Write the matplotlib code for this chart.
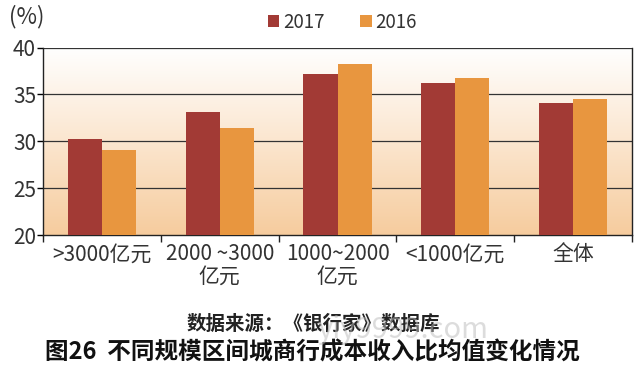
import matplotlib
matplotlib.use("Agg")
import matplotlib.pyplot as plt
import numpy as np
from matplotlib.colors import LinearSegmentedColormap

plt.rcParams['font.family'] = ['Noto Sans CJK SC', 'DejaVu Sans']

categories = [">3000亿元", "2000 ~3000\n亿元", "1000~2000\n亿元", "<1000亿元", "全体"]
values_2017 = [30.2, 33.1, 37.2, 36.2, 34.1]
values_2016 = [29.1, 31.4, 38.3, 36.8, 34.5]
series_names = ["2017", "2016"]

color_2017 = "#a23a35"
color_2016 = "#e8963f"

fig = plt.figure(figsize=(6.4, 3.72), dpi=100)
ax = fig.add_axes([0.0672, 0.368, 0.9203, 0.504])

# background gradient: white at top, peach at bottom
cmap = LinearSegmentedColormap.from_list("bg", ["#f6cc9e", "#fbe6cf", "#ffffff"])
grad = np.linspace(0, 1, 256).reshape(-1, 1)
ax.imshow(grad, extent=[0, 1, 0, 1], transform=ax.transAxes, aspect="auto",
          cmap=cmap, origin="lower", zorder=0)

x = np.arange(len(categories))
w = 0.29
ax.bar(x - w / 2, values_2017, width=w, color=color_2017, label=series_names[0], zorder=3)
ax.bar(x + w / 2, values_2016, width=w, color=color_2016, label=series_names[1], zorder=3)

ax.set_xlim(-0.5, len(categories) - 0.5)
ax.set_ylim(20, 40)
ax.set_yticks([20, 25, 30, 35, 40])
for yv in [25, 30, 35, 40]:
    ax.axhline(yv, color="#333333", lw=0.9, zorder=1)

ax.set_xticks(np.arange(len(categories) + 1) - 0.5, minor=False)
ax.set_xticklabels([])
ax.set_xticks(x, minor=True)
ax.set_xticklabels(categories, minor=True, fontsize=15, color="#333333",
                   linespacing=1.0)
ax.tick_params(axis="x", which="minor", length=0, pad=6)
ax.tick_params(axis="x", which="major", length=5, width=1, direction="out", color="#222222")
ax.tick_params(axis="y", length=4, width=1, direction="out", labelsize=15,
               labelcolor="#333333", pad=1)

for side in ["top", "left", "right", "bottom"]:
    ax.spines[side].set_color("#222222")
    ax.spines[side].set_linewidth(1.0)
ax.spines["top"].set_visible(False)

fig.text(0.014, 0.955, "(%)", fontsize=16, color="#333333", va="center")

fig.legend(loc="center", bbox_to_anchor=(0.535, 0.94), ncol=2, frameon=False,
           prop={"size": 13.5}, handlelength=0.6, handleheight=0.6,
           handletextpad=0.2, columnspacing=1.9, labelcolor="#333333")

fig.text(0.49, 0.128, "数据来源：《银行家》数据库", fontsize=14, fontweight="bold",
         color="#222222", ha="center", va="center")
fig.text(0.07, 0.052, "图26  不同规模区间城商行成本收入比均值变化情况", fontsize=17,
         fontweight="bold", color="#111111", ha="left", va="center")
fig.text(0.63, 0.113, "yiy9999.com", fontsize=21, color="#bbbbbb", alpha=0.5,
         ha="center", va="center")

fig.savefig("out.png", dpi=100)
